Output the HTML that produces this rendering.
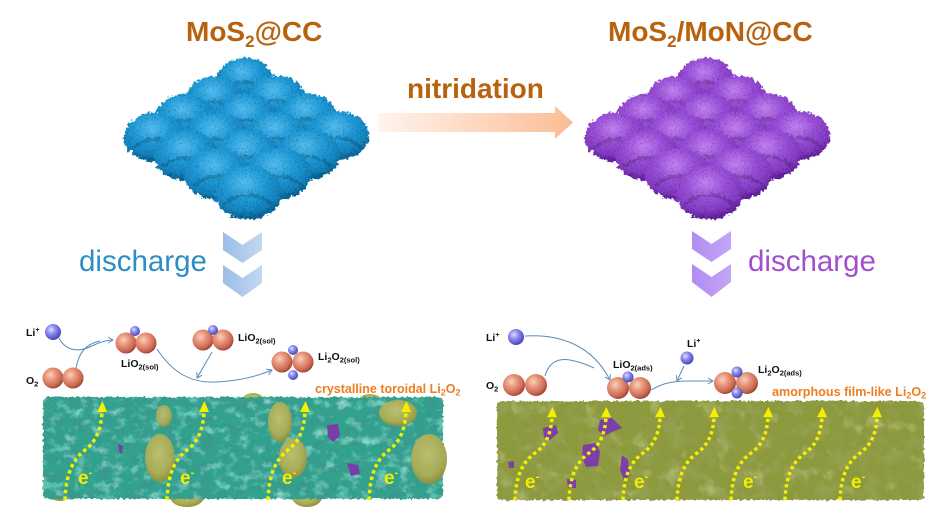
<!DOCTYPE html>
<html><head><meta charset="utf-8"><style>
html,body{margin:0;padding:0;background:#fff;}
svg{display:block;}
text{font-family:"Liberation Sans",Arial,sans-serif;}
.lb{font-size:10.5px;font-weight:bold;fill:#111;}
.ee{font-size:19px;font-weight:bold;fill:#f2ee00;}
</style></head><body>
<svg width="952" height="531" viewBox="0 0 952 531" xmlns="http://www.w3.org/2000/svg">
<defs>
<radialGradient id="gBlue" cx="0.45" cy="0.32" r="0.66">
<stop offset="0" stop-color="#55bef0"/><stop offset="0.45" stop-color="#229bd7"/><stop offset="0.8" stop-color="#1784bf"/><stop offset="1" stop-color="#0c6394"/></radialGradient>
<radialGradient id="gPurp" cx="0.45" cy="0.32" r="0.66">
<stop offset="0" stop-color="#c283f2"/><stop offset="0.45" stop-color="#9a50d8"/><stop offset="0.8" stop-color="#853cc4"/><stop offset="1" stop-color="#60229a"/></radialGradient>
<radialGradient id="gCu" cx="0.38" cy="0.35" r="0.7">
<stop offset="0" stop-color="#fbd0bc"/><stop offset="0.35" stop-color="#e99a80"/><stop offset="0.75" stop-color="#cc6a52"/><stop offset="1" stop-color="#8f3e30"/></radialGradient>
<radialGradient id="gLi" cx="0.38" cy="0.35" r="0.7">
<stop offset="0" stop-color="#e0e0ff"/><stop offset="0.4" stop-color="#8c8cf0"/><stop offset="0.8" stop-color="#5a5ac8"/><stop offset="1" stop-color="#3a3a90"/></radialGradient>
<linearGradient id="gPeach" x1="0" x2="1" y1="0" y2="0">
<stop offset="0" stop-color="#fff4ee"/><stop offset="1" stop-color="#fbbd94"/></linearGradient>
<linearGradient id="gChevB" x1="0" x2="1" y1="0" y2="0">
<stop offset="0" stop-color="#9cbde6"/><stop offset="1" stop-color="#c2d8f0"/></linearGradient>
<linearGradient id="gChevP" x1="0" x2="1" y1="0" y2="0">
<stop offset="0" stop-color="#b08cf2"/><stop offset="1" stop-color="#c4a6f8"/></linearGradient>
<radialGradient id="gOlive" cx="0.45" cy="0.4" r="0.6">
<stop offset="0" stop-color="#c0c06c"/><stop offset="0.7" stop-color="#adad56"/><stop offset="1" stop-color="#92923c"/></radialGradient>

<g id="eb">
<ellipse rx="28" ry="22"/>
<path d="M-20,10 Q0,-6 20,10" fill="none" stroke="#000" stroke-opacity="0.18" stroke-width="3"/>
</g>

<marker id="ah" markerWidth="8" markerHeight="8" refX="6" refY="4" orient="auto" markerUnits="userSpaceOnUse">
<path d="M1,1 L6,4 L1,7" fill="none" stroke="#5a8cb8" stroke-width="1"/></marker>

<filter id="fluffy" x="-10%" y="-10%" width="120%" height="120%">
<feTurbulence type="fractalNoise" baseFrequency="0.3" numOctaves="2" seed="4" result="n"/>
<feDisplacementMap in="SourceGraphic" in2="n" scale="7" xChannelSelector="R" yChannelSelector="G" result="d"/>
<feTurbulence type="fractalNoise" baseFrequency="0.6" numOctaves="1" seed="9" result="n2"/>
<feColorMatrix in="n2" type="matrix" values="0 0 0 0 0  0 0 0 0 0  0 0 0 0 0  1.6 0 0 0 -0.85" result="sp"/>
<feComposite in="sp" in2="d" operator="in" result="sp2"/>
<feMerge><feMergeNode in="d"/><feMergeNode in="sp2"/></feMerge>
</filter>

<filter id="rough" x="-3%" y="-8%" width="106%" height="116%">
<feTurbulence type="fractalNoise" baseFrequency="0.3" numOctaves="2" seed="2" result="n"/>
<feDisplacementMap in="SourceGraphic" in2="n" scale="4" xChannelSelector="R" yChannelSelector="G"/>
</filter>

<filter id="tealTex" x="0" y="0" width="1" height="1">
<feTurbulence type="fractalNoise" baseFrequency="0.08 0.11" numOctaves="3" seed="5" result="n"/>
<feColorMatrix in="n" type="matrix" values="0 0 0 0 0.04  0 0 0 0 0.32  0 0 0 0 0.27  3.5 0 0 0 -1.45" result="d"/>
<feComposite in="d" in2="SourceAlpha" operator="in" result="dd"/>
<feColorMatrix in="n" type="matrix" values="0 0 0 0 0.27  0 0 0 0 0.72  0 0 0 0 0.63  0 2.5 0 0 -1.3" result="h"/>
<feComposite in="h" in2="SourceAlpha" operator="in" result="hh"/>
<feMerge><feMergeNode in="dd"/><feMergeNode in="hh"/></feMerge>
</filter>

<filter id="oliveTex" x="0" y="0" width="1" height="1">
<feTurbulence type="fractalNoise" baseFrequency="0.06" numOctaves="3" seed="7" result="n"/>
<feColorMatrix in="n" type="matrix" values="0 0 0 0 0.3  0 0 0 0 0.35  0 0 0 0 0.08  3.5 0 0 0 -1.6" result="d"/>
<feComposite in="d" in2="SourceAlpha" operator="in" result="dd"/>
<feColorMatrix in="n" type="matrix" values="0 0 0 0 0.6  0 0 0 0 0.65  0 0 0 0 0.3  0 1.6 0 0 -0.95" result="h"/>
<feComposite in="h" in2="SourceAlpha" operator="in" result="hh"/>
<feMerge><feMergeNode in="dd"/><feMergeNode in="hh"/></feMerge>
</filter>

<g id="yarrow">
<path d="M0,0 C1,-25 7,-40 20,-50 C32,-59 36,-72 37,-88" fill="none" stroke="#f5f000" stroke-width="3.5" stroke-dasharray="3.5 3.2"/>
<polygon points="32,-88 42,-88 37.5,-99" fill="#f5f000"/>
</g>
</defs>

<rect width="952" height="531" fill="#fff"/>

<text x="186" y="41" font-size="28" font-weight="bold" fill="#b8620e">MoS<tspan font-size="17" dy="6">2</tspan><tspan dy="-6">@CC</tspan></text>
<text x="608" y="41" font-size="28" font-weight="bold" fill="#b8620e">MoS<tspan font-size="17" dy="6">2</tspan><tspan dy="-6">/MoN@CC</tspan></text>
<text x="407" y="98" font-size="28" font-weight="bold" fill="#b8620e">nitridation</text>

<polygon points="378,113 555,113 555,106 573,122.5 555,139 555,132 378,132" fill="url(#gPeach)"/>

<g filter="url(#fluffy)">
<use href="#eb" fill="url(#gBlue)" transform="translate(245,80)"/>
<use href="#eb" fill="url(#gBlue)" transform="translate(215,99) scale(1.035)"/>
<use href="#eb" fill="url(#gBlue)" transform="translate(276,98.5) scale(1.035)"/>
<use href="#eb" fill="url(#gBlue)" transform="translate(185,118) scale(1.07)"/>
<use href="#eb" fill="url(#gBlue)" transform="translate(246,117.5) scale(1.07)"/>
<use href="#eb" fill="url(#gBlue)" transform="translate(307,117) scale(1.07)"/>
<use href="#eb" fill="url(#gBlue)" transform="translate(155,137) scale(1.105)"/>
<use href="#eb" fill="url(#gBlue)" transform="translate(216,136.5) scale(1.105)"/>
<use href="#eb" fill="url(#gBlue)" transform="translate(277,136) scale(1.105)"/>
<use href="#eb" fill="url(#gBlue)" transform="translate(338,135.5) scale(1.105)"/>
<use href="#eb" fill="url(#gBlue)" transform="translate(186,155.5) scale(1.14)"/>
<use href="#eb" fill="url(#gBlue)" transform="translate(247,155) scale(1.14)"/>
<use href="#eb" fill="url(#gBlue)" transform="translate(308,154.5) scale(1.14)"/>
<use href="#eb" fill="url(#gBlue)" transform="translate(217,174) scale(1.175)"/>
<use href="#eb" fill="url(#gBlue)" transform="translate(278,173.5) scale(1.175)"/>
<use href="#eb" fill="url(#gBlue)" transform="translate(248,192.5) scale(1.21)"/>
</g>

<g filter="url(#fluffy)" transform="translate(461,0)">
<use href="#eb" fill="url(#gPurp)" transform="translate(245,80)"/>
<use href="#eb" fill="url(#gPurp)" transform="translate(215,99) scale(1.035)"/>
<use href="#eb" fill="url(#gPurp)" transform="translate(276,98.5) scale(1.035)"/>
<use href="#eb" fill="url(#gPurp)" transform="translate(185,118) scale(1.07)"/>
<use href="#eb" fill="url(#gPurp)" transform="translate(246,117.5) scale(1.07)"/>
<use href="#eb" fill="url(#gPurp)" transform="translate(307,117) scale(1.07)"/>
<use href="#eb" fill="url(#gPurp)" transform="translate(155,137) scale(1.105)"/>
<use href="#eb" fill="url(#gPurp)" transform="translate(216,136.5) scale(1.105)"/>
<use href="#eb" fill="url(#gPurp)" transform="translate(277,136) scale(1.105)"/>
<use href="#eb" fill="url(#gPurp)" transform="translate(338,135.5) scale(1.105)"/>
<use href="#eb" fill="url(#gPurp)" transform="translate(186,155.5) scale(1.14)"/>
<use href="#eb" fill="url(#gPurp)" transform="translate(247,155) scale(1.14)"/>
<use href="#eb" fill="url(#gPurp)" transform="translate(308,154.5) scale(1.14)"/>
<use href="#eb" fill="url(#gPurp)" transform="translate(217,174) scale(1.175)"/>
<use href="#eb" fill="url(#gPurp)" transform="translate(278,173.5) scale(1.175)"/>
<use href="#eb" fill="url(#gPurp)" transform="translate(248,192.5) scale(1.21)"/>
</g>

<polygon points="223,232 242.5,245 262,232 262,250 242.5,263 223,250" fill="url(#gChevB)"/>
<polygon points="223,265 242.5,278 262,265 262,283 242.5,297 223,283" fill="url(#gChevB)"/>
<polygon points="692,231 711.5,244 731,231 731,249 711.5,262 692,249" fill="url(#gChevP)"/>
<polygon points="692,264 711.5,277 731,264 731,282 711.5,297 692,282" fill="url(#gChevP)"/>

<text x="79" y="271" font-size="29.5" fill="#2b8fc6">discharge</text>
<text x="748" y="271" font-size="29.5" fill="#a24fcf">discharge</text>

<ellipse cx="60" cy="487" rx="17" ry="14" fill="url(#gOlive)"/>
<ellipse cx="187" cy="497" rx="17" ry="10" fill="url(#gOlive)"/>
<ellipse cx="307" cy="497" rx="15" ry="10" fill="url(#gOlive)"/>
<ellipse cx="253" cy="399" rx="10" ry="6" fill="url(#gOlive)"/>
<ellipse cx="370" cy="400" rx="11" ry="6" fill="url(#gOlive)"/>

<g filter="url(#rough)">
<rect x="43" y="397" width="400" height="102" rx="5" fill="#31a28d"/>
<rect x="43" y="397" width="400" height="102" rx="5" fill="#000" filter="url(#tealTex)"/>
</g>

<ellipse cx="160" cy="458" rx="15" ry="24" fill="url(#gOlive)" opacity="0.95"/>
<ellipse cx="164" cy="416" rx="8" ry="11" fill="url(#gOlive)" opacity="0.9"/>
<ellipse cx="280" cy="422" rx="12" ry="20" fill="url(#gOlive)" opacity="0.95"/>
<ellipse cx="293" cy="458" rx="14" ry="20" fill="url(#gOlive)" opacity="0.95"/>
<ellipse cx="398" cy="413" rx="19" ry="13" fill="url(#gOlive)" opacity="0.95"/>
<ellipse cx="429" cy="459" rx="18" ry="25" fill="url(#gOlive)" opacity="0.95"/>

<polygon points="327,425 338,424 340,436 333,442 328,437" fill="#7a3ea8"/>
<polygon points="347,463 358,465 360,474 351,476" fill="#7a3ea8"/>
<polygon points="118,444 123,446 122,454 119,452" fill="#7a3ea8"/>

<use href="#yarrow" transform="translate(65,500)"/>
<use href="#yarrow" transform="translate(167,500)"/>
<use href="#yarrow" transform="translate(268,500)"/>
<use href="#yarrow" transform="translate(369,500)"/>

<text x="78" y="484" class="ee">e<tspan font-size="11" dy="-8">-</tspan></text>
<text x="180" y="484" class="ee">e<tspan font-size="11" dy="-8">-</tspan></text>
<text x="282" y="484" class="ee">e<tspan font-size="11" dy="-8">-</tspan></text>
<text x="384" y="484" class="ee">e<tspan font-size="11" dy="-8">-</tspan></text>

<path d="M59,338 C66,352 80,352 92,346 C100,342 106,340 113,340" fill="none" stroke="#5a8cb8" stroke-width="1" marker-end="url(#ah)"/>
<path d="M76,368 C79,352 86,344 100,341" fill="none" stroke="#5a8cb8" stroke-width="1"/>
<path d="M157,349 C172,372 190,383 215,382 C240,381 258,376 272,370" fill="none" stroke="#5a8cb8" stroke-width="1" marker-end="url(#ah)"/>
<path d="M212,352 L197,378" fill="none" stroke="#5a8cb8" stroke-width="1" marker-end="url(#ah)"/>

<text x="26" y="336" class="lb">Li<tspan font-size="7" dy="-4">+</tspan></text>
<circle cx="53" cy="332" r="8" fill="url(#gLi)"/>
<text x="26" y="384" class="lb">O<tspan font-size="7.5" dy="2.5">2</tspan></text>
<circle cx="53" cy="378" r="10.5" fill="url(#gCu)"/>
<circle cx="73" cy="378" r="10.5" fill="url(#gCu)"/>

<circle cx="126" cy="343" r="10.5" fill="url(#gCu)"/>
<circle cx="146" cy="343" r="10.5" fill="url(#gCu)"/>
<circle cx="135" cy="331" r="5" fill="url(#gLi)"/>
<text x="121" y="367" class="lb">LiO<tspan font-size="7.5" dy="2.5">2(sol)</tspan></text>

<circle cx="203" cy="340" r="10.5" fill="url(#gCu)"/>
<circle cx="223" cy="340" r="10.5" fill="url(#gCu)"/>
<circle cx="213" cy="330" r="5" fill="url(#gLi)"/>
<text x="238" y="341" class="lb">LiO<tspan font-size="7.5" dy="2.5">2(sol)</tspan></text>

<circle cx="282" cy="362" r="10.5" fill="url(#gCu)"/>
<circle cx="303" cy="362" r="10.5" fill="url(#gCu)"/>
<circle cx="293" cy="350" r="5" fill="url(#gLi)"/>
<circle cx="293" cy="375" r="5" fill="url(#gLi)"/>
<text x="318" y="360" class="lb">Li<tspan font-size="7.5" dy="2.5">2</tspan><tspan dy="-2.5">O</tspan><tspan font-size="7.5" dy="2.5">2(sol)</tspan></text>

<text x="315" y="393" font-size="12.5" font-weight="bold" fill="#f07d20">crystalline toroidal Li<tspan font-size="9" dy="2.5">2</tspan><tspan dy="-2.5">O</tspan><tspan font-size="9" dy="2.5">2</tspan></text>

<g filter="url(#rough)">
<rect x="497" y="401" width="427" height="99" rx="5" fill="#8c993e"/>
<rect x="497" y="401" width="427" height="99" rx="5" fill="#000" filter="url(#oliveTex)"/>
</g>

<polygon points="543,428 556,425 558,433 550,440 544,437" fill="#7c3ea8"/>
<polygon points="600,420 612,418 622,428 612,432 604,436 598,430" fill="#7c3ea8"/>
<polygon points="583,445 596,443 600,452 598,466 586,467 582,458" fill="#7c3ea8"/>
<polygon points="622,455 628,460 630,475 624,480 620,470" fill="#7c3ea8"/>
<polygon points="567,479 576,480 576,488 568,488" fill="#7c3ea8"/>
<polygon points="508,462 514,461 514,468 509,468" fill="#7c3ea8"/>

<use href="#yarrow" transform="translate(515,500) scale(1,0.94)"/>
<use href="#yarrow" transform="translate(569,500) scale(1,0.94)"/>
<use href="#yarrow" transform="translate(623,500) scale(1,0.94)"/>
<use href="#yarrow" transform="translate(677,500) scale(1,0.94)"/>
<use href="#yarrow" transform="translate(731,500) scale(1,0.94)"/>
<use href="#yarrow" transform="translate(785,500) scale(1,0.94)"/>
<use href="#yarrow" transform="translate(840,500) scale(1,0.94)"/>

<text x="525" y="488" class="ee">e<tspan font-size="11" dy="-8">-</tspan></text>
<text x="634" y="488" class="ee">e<tspan font-size="11" dy="-8">-</tspan></text>
<text x="743" y="488" class="ee">e<tspan font-size="11" dy="-8">-</tspan></text>
<text x="851" y="488" class="ee">e<tspan font-size="11" dy="-8">-</tspan></text>

<path d="M525,336 C560,334 592,345 610,380" fill="none" stroke="#5a8cb8" stroke-width="1" marker-end="url(#ah)"/>
<path d="M545,376 C549,362 558,358 570,360 C580,362 588,365 594,368" fill="none" stroke="#5a8cb8" stroke-width="1"/>
<path d="M684,366 L677,381" fill="none" stroke="#5a8cb8" stroke-width="1" marker-end="url(#ah)"/>
<path d="M651,390 C660,385 668,381 688,381 L713,381" fill="none" stroke="#5a8cb8" stroke-width="1" marker-end="url(#ah)"/>

<text x="486" y="341" class="lb">Li<tspan font-size="7" dy="-4">+</tspan></text>
<circle cx="516" cy="337" r="8" fill="url(#gLi)"/>
<text x="486" y="389" class="lb">O<tspan font-size="7.5" dy="2.5">2</tspan></text>
<circle cx="514" cy="385" r="11" fill="url(#gCu)"/>
<circle cx="536" cy="385" r="11" fill="url(#gCu)"/>

<circle cx="618" cy="388" r="11" fill="url(#gCu)"/>
<circle cx="640" cy="388" r="11" fill="url(#gCu)"/>
<circle cx="628" cy="377" r="5.5" fill="url(#gLi)"/>
<text x="613" y="368" class="lb">LiO<tspan font-size="7.5" dy="2.5">2(ads)</tspan></text>

<text x="687" y="347" class="lb">Li<tspan font-size="7" dy="-4">+</tspan></text>
<circle cx="687" cy="358" r="6.5" fill="url(#gLi)"/>

<circle cx="725" cy="383" r="11" fill="url(#gCu)"/>
<circle cx="747" cy="383" r="11" fill="url(#gCu)"/>
<circle cx="737" cy="372" r="5.5" fill="url(#gLi)"/>
<circle cx="737" cy="393" r="5.5" fill="url(#gLi)"/>
<text x="758" y="373" class="lb">Li<tspan font-size="7.5" dy="2.5">2</tspan><tspan dy="-2.5">O</tspan><tspan font-size="7.5" dy="2.5">2(ads)</tspan></text>

<text x="772" y="396" font-size="12.6" font-weight="bold" fill="#f07d20">amorphous film-like Li<tspan font-size="9" dy="2.5">2</tspan><tspan dy="-2.5">O</tspan><tspan font-size="9" dy="2.5">2</tspan></text>
</svg>
</body></html>
